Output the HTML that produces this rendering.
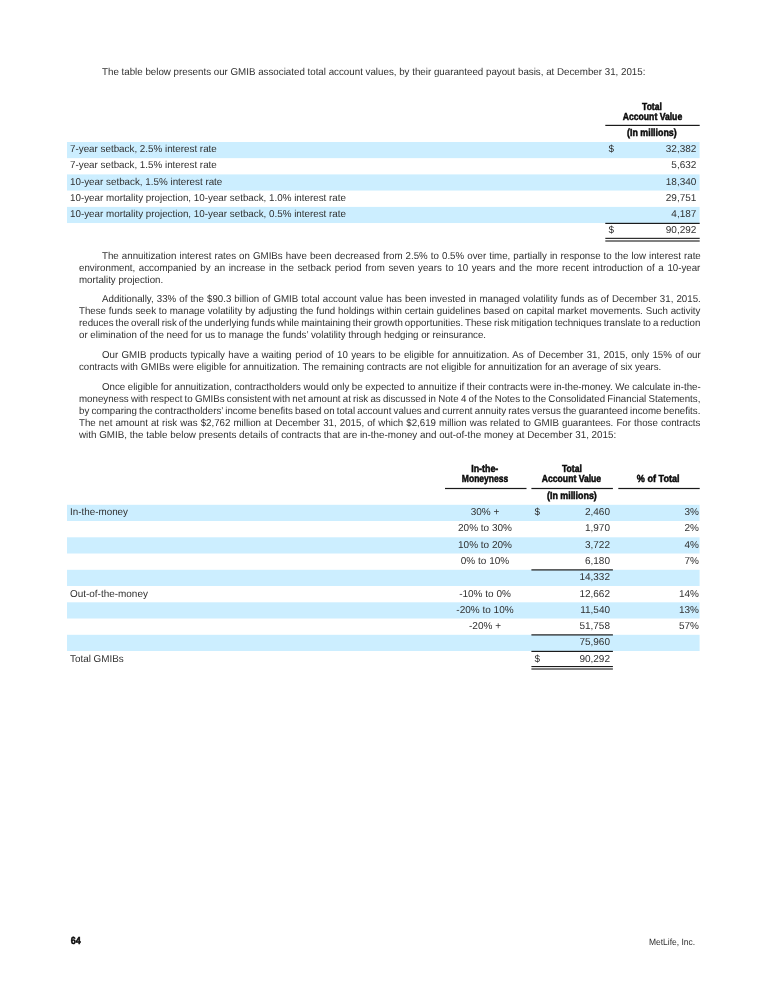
<!DOCTYPE html>
<html lang="en"><head><meta charset="utf-8"><title>MetLife, Inc. - page 64</title>
<style>
html,body{margin:0;padding:0;background:#fff;}
body{width:768px;height:993px;position:relative;overflow:hidden;font-family:"Liberation Sans",sans-serif;color:#303030;text-rendering:geometricPrecision;}
.t{position:absolute;white-space:nowrap;font-size:10px;line-height:12px;height:12px;}
.b{font-weight:bold;color:#0a0a0a;-webkit-text-stroke:0.5px #0a0a0a;}
.g{position:absolute;left:0;top:0;}
.w{position:absolute;left:0;top:0;width:768px;height:993px;filter:grayscale(1);}
</style></head><body>
<svg class="g" width="768" height="993" viewBox="0 0 768 993">
<rect x="67.00" y="142.00" width="632.60" height="16.15" fill="#cceeff"/>
<rect x="67.00" y="174.40" width="632.60" height="16.15" fill="#cceeff"/>
<rect x="67.00" y="206.90" width="632.60" height="16.15" fill="#cceeff"/>
<rect x="605.30" y="124.80" width="94.40" height="1.20" fill="#1a1a1a"/>
<rect x="605.30" y="222.80" width="94.40" height="1.20" fill="#1a1a1a"/>
<rect x="605.30" y="237.80" width="94.40" height="1.10" fill="#1a1a1a"/>
<rect x="605.30" y="240.45" width="94.40" height="1.10" fill="#1a1a1a"/>
<rect x="67.00" y="504.80" width="632.60" height="16.20" fill="#cceeff"/>
<rect x="67.00" y="537.30" width="632.60" height="16.20" fill="#cceeff"/>
<rect x="67.00" y="569.80" width="632.60" height="16.20" fill="#cceeff"/>
<rect x="67.00" y="602.30" width="632.60" height="16.20" fill="#cceeff"/>
<rect x="67.00" y="634.80" width="632.60" height="16.20" fill="#cceeff"/>
<rect x="445.00" y="487.90" width="81.50" height="1.20" fill="#1a1a1a"/>
<rect x="531.40" y="487.90" width="81.50" height="1.20" fill="#1a1a1a"/>
<rect x="618.30" y="487.90" width="81.40" height="1.20" fill="#1a1a1a"/>
<rect x="531.40" y="569.30" width="81.50" height="1.20" fill="#1a1a1a"/>
<rect x="531.40" y="634.30" width="81.50" height="1.20" fill="#1a1a1a"/>
<rect x="531.40" y="650.80" width="81.50" height="1.20" fill="#1a1a1a"/>
<rect x="531.40" y="666.00" width="81.50" height="1.10" fill="#1a1a1a"/>
<rect x="531.40" y="668.45" width="81.50" height="1.10" fill="#1a1a1a"/>
</svg>
<div class="w">
<section aria-label="GMIB total account values by guaranteed payout basis">
<div class="t" style="top:67px;left:101.60px;transform-origin:0 0;width:557.00px;transform:scaleX(0.9756);">The table below presents our GMIB associated total account values, by their guaranteed payout basis, at December 31, 2015:</div>
<div class="t" style="top:144px;left:70.20px;transform-origin:0 0;width:149.53px;transform:scaleX(0.9817);">7-year setback, 2.5% interest rate</div>
<div class="t" style="top:160px;left:70.20px;transform-origin:0 0;width:149.53px;transform:scaleX(0.9817);">7-year setback, 1.5% interest rate</div>
<div class="t" style="top:177px;left:70.20px;transform-origin:0 0;width:155.08px;transform:scaleX(0.9821);">10-year setback, 1.5% interest rate</div>
<div class="t" style="top:193px;left:70.20px;transform-origin:0 0;width:281.25px;transform:scaleX(0.9813);">10-year mortality projection, 10-year setback, 1.0% interest rate</div>
<div class="t" style="top:209px;left:70.20px;transform-origin:0 0;width:281.25px;transform:scaleX(0.9813);">10-year mortality projection, 10-year setback, 0.5% interest rate</div>
<div class="t" style="top:144px;left:665.81px;transform-origin:100% 0;width:30.59px;transform:scaleX(1.0000);">32,382</div>
<div class="t" style="top:160px;left:671.37px;transform-origin:100% 0;width:25.03px;transform:scaleX(1.0000);">5,632</div>
<div class="t" style="top:177px;left:665.81px;transform-origin:100% 0;width:30.59px;transform:scaleX(1.0000);">18,340</div>
<div class="t" style="top:193px;left:665.81px;transform-origin:100% 0;width:30.59px;transform:scaleX(1.0000);">29,751</div>
<div class="t" style="top:209px;left:671.37px;transform-origin:100% 0;width:25.03px;transform:scaleX(1.0000);">4,187</div>
<div class="t" style="top:225px;left:665.81px;transform-origin:100% 0;width:30.59px;transform:scaleX(1.0000);">90,292</div>
<div class="t" style="top:144px;left:608.40px;transform-origin:0 0;width:5.56px;transform:scaleX(1.0000);">$</div>
<div class="t" style="top:225px;left:608.40px;transform-origin:0 0;width:5.56px;transform:scaleX(1.0000);">$</div>
<div class="t b" style="top:102px;left:640.08px;transform-origin:50% 0;width:23.84px;transform:scaleX(0.8262);font-size:10.3px;">Total</div>
<div class="t b" style="top:112px;left:616.52px;transform-origin:50% 0;width:70.95px;transform:scaleX(0.8372);font-size:10.3px;">Account Value</div>
<div class="t b" style="top:128px;left:623.11px;transform-origin:50% 0;width:57.78px;transform:scaleX(0.8584);font-size:10.3px;">(In millions)</div>
</section>
<section aria-label="Discussion">
<div class="t" style="top:251px;left:101.60px;transform-origin:0 0;width:616.00px;transform:scaleX(0.9720);word-spacing:0.384px;">The annuitization interest rates on GMIBs have been decreased from 2.5% to 0.5% over time, partially in response to the low interest rate</div>
<div class="t" style="top:263px;left:79.00px;transform-origin:0 0;width:639.25px;transform:scaleX(0.9720);word-spacing:0.985px;">environment, accompanied by an increase in the setback period from seven years to 10 years and the more recent introduction of a 10-year</div>
<div class="t" style="top:275px;left:79.00px;transform-origin:0 0;width:86.70px;transform:scaleX(0.9711);">mortality projection.</div>
<div class="t" style="top:294px;left:101.60px;transform-origin:0 0;width:616.00px;transform:scaleX(0.9720);word-spacing:0.365px;">Additionally, 33% of the $90.3 billion of GMIB total account value has been invested in managed volatility funds as of December 31, 2015.</div>
<div class="t" style="top:306px;left:79.00px;transform-origin:0 0;width:639.25px;transform:scaleX(0.9720);word-spacing:0.139px;">These funds seek to manage volatility by adjusting the fund holdings within certain guidelines based on capital market movements. Such activity</div>
<div class="t" style="top:318px;left:79.00px;transform-origin:0 0;width:640.06px;transform:scaleX(0.9708);word-spacing:-0.700px;">reduces the overall risk of the underlying funds while maintaining their growth opportunities. These risk mitigation techniques translate to a reduction</div>
<div class="t" style="top:330px;left:79.00px;transform-origin:0 0;width:418.78px;transform:scaleX(0.9719);">or elimination of the need for us to manage the funds’ volatility through hedging or reinsurance.</div>
<div class="t" style="top:350px;left:101.60px;transform-origin:0 0;width:616.00px;transform:scaleX(0.9720);word-spacing:0.676px;">Our GMIB products typically have a waiting period of 10 years to be eligible for annuitization. As of December 31, 2015, only 15% of our</div>
<div class="t" style="top:362px;left:79.00px;transform-origin:0 0;width:603.45px;transform:scaleX(0.9649);">contracts with GMIBs were eligible for annuitization. The remaining contracts are not eligible for annuitization for an average of six years.</div>
<div class="t" style="top:382px;left:101.60px;transform-origin:0 0;width:616.00px;transform:scaleX(0.9720);word-spacing:-0.128px;">Once eligible for annuitization, contractholders would only be expected to annuitize if their contracts were in-the-money. We calculate in-the-</div>
<div class="t" style="top:394px;left:79.00px;transform-origin:0 0;width:639.25px;transform:scaleX(0.9720);word-spacing:-0.482px;">moneyness with respect to GMIBs consistent with net amount at risk as discussed in Note 4 of the Notes to the Consolidated Financial Statements,</div>
<div class="t" style="top:406px;left:79.00px;transform-origin:0 0;width:639.25px;transform:scaleX(0.9720);word-spacing:-0.508px;">by comparing the contractholders’ income benefits based on total account values and current annuity rates versus the guaranteed income benefits.</div>
<div class="t" style="top:418px;left:79.00px;transform-origin:0 0;width:639.25px;transform:scaleX(0.9720);word-spacing:0.388px;">The net amount at risk was $2,762 million at December 31, 2015, of which $2,619 million was related to GMIB guarantees. For those contracts</div>
<div class="t" style="top:430px;left:79.00px;transform-origin:0 0;width:546.41px;transform:scaleX(0.9832);">with GMIB, the table below presents details of contracts that are in-the-money and out-of-the money at December 31, 2015:</div>
</section>
<section aria-label="In-the-money and out-of-the-money contracts">
<div class="t" style="top:507px;left:70.40px;transform-origin:0 0;width:58.92px;transform:scaleX(0.9844);">In-the-money</div>
<div class="t" style="top:589px;left:70.20px;transform-origin:0 0;width:78.38px;transform:scaleX(0.9939);">Out-of-the-money</div>
<div class="t" style="top:654px;left:70.40px;transform-origin:0 0;width:54.47px;transform:scaleX(0.9877);">Total GMIBs</div>
<div class="t" style="top:507px;left:470.68px;transform-origin:50% 0;width:28.64px;transform:scaleX(1.0000);">30% +</div>
<div class="t" style="top:523px;left:458.03px;transform-origin:50% 0;width:53.94px;transform:scaleX(1.0000);">20% to 30%</div>
<div class="t" style="top:540px;left:458.03px;transform-origin:50% 0;width:53.94px;transform:scaleX(1.0000);">10% to 20%</div>
<div class="t" style="top:556px;left:460.81px;transform-origin:50% 0;width:48.38px;transform:scaleX(1.0000);">0% to 10%</div>
<div class="t" style="top:589px;left:459.15px;transform-origin:50% 0;width:51.70px;transform:scaleX(1.0000);">-10% to 0%</div>
<div class="t" style="top:605px;left:456.37px;transform-origin:50% 0;width:57.27px;transform:scaleX(1.0000);">-20% to 10%</div>
<div class="t" style="top:621px;left:469.02px;transform-origin:50% 0;width:31.97px;transform:scaleX(1.0000);">-20% +</div>
<div class="t" style="top:507px;left:584.97px;transform-origin:100% 0;width:25.03px;transform:scaleX(1.0000);">2,460</div>
<div class="t" style="top:523px;left:584.97px;transform-origin:100% 0;width:25.03px;transform:scaleX(1.0000);">1,970</div>
<div class="t" style="top:540px;left:584.97px;transform-origin:100% 0;width:25.03px;transform:scaleX(1.0000);">3,722</div>
<div class="t" style="top:556px;left:584.97px;transform-origin:100% 0;width:25.03px;transform:scaleX(1.0000);">6,180</div>
<div class="t" style="top:572px;left:579.41px;transform-origin:100% 0;width:30.59px;transform:scaleX(1.0000);">14,332</div>
<div class="t" style="top:589px;left:579.41px;transform-origin:100% 0;width:30.59px;transform:scaleX(1.0000);">12,662</div>
<div class="t" style="top:605px;left:580.16px;transform-origin:100% 0;width:29.84px;transform:scaleX(1.0000);">11,540</div>
<div class="t" style="top:621px;left:579.41px;transform-origin:100% 0;width:30.59px;transform:scaleX(1.0000);">51,758</div>
<div class="t" style="top:637px;left:579.41px;transform-origin:100% 0;width:30.59px;transform:scaleX(1.0000);">75,960</div>
<div class="t" style="top:654px;left:579.41px;transform-origin:100% 0;width:30.59px;transform:scaleX(1.0000);">90,292</div>
<div class="t" style="top:507px;left:534.60px;transform-origin:0 0;width:5.56px;transform:scaleX(1.0000);">$</div>
<div class="t" style="top:654px;left:534.60px;transform-origin:0 0;width:5.56px;transform:scaleX(1.0000);">$</div>
<div class="t" style="top:507px;left:684.55px;transform-origin:100% 0;width:14.45px;transform:scaleX(1.0000);">3%</div>
<div class="t" style="top:523px;left:684.55px;transform-origin:100% 0;width:14.45px;transform:scaleX(1.0000);">2%</div>
<div class="t" style="top:540px;left:684.55px;transform-origin:100% 0;width:14.45px;transform:scaleX(1.0000);">4%</div>
<div class="t" style="top:556px;left:684.55px;transform-origin:100% 0;width:14.45px;transform:scaleX(1.0000);">7%</div>
<div class="t" style="top:589px;left:678.98px;transform-origin:100% 0;width:20.02px;transform:scaleX(1.0000);">14%</div>
<div class="t" style="top:605px;left:678.98px;transform-origin:100% 0;width:20.02px;transform:scaleX(1.0000);">13%</div>
<div class="t" style="top:621px;left:678.98px;transform-origin:100% 0;width:20.02px;transform:scaleX(1.0000);">57%</div>
<div class="t b" style="top:464px;left:469.47px;transform-origin:50% 0;width:31.47px;transform:scaleX(0.8612);font-size:10.3px;">In-the-</div>
<div class="t b" style="top:474px;left:456.85px;transform-origin:50% 0;width:56.09px;transform:scaleX(0.8272);font-size:10.3px;">Moneyness</div>
<div class="t b" style="top:464px;left:559.78px;transform-origin:50% 0;width:23.84px;transform:scaleX(0.8304);font-size:10.3px;">Total</div>
<div class="t b" style="top:474px;left:536.12px;transform-origin:50% 0;width:70.95px;transform:scaleX(0.8358);font-size:10.3px;">Account Value</div>
<div class="t b" style="top:474px;left:634.18px;transform-origin:50% 0;width:48.44px;transform:scaleX(0.8815);font-size:10.3px;">% of Total</div>
<div class="t b" style="top:491px;left:542.71px;transform-origin:50% 0;width:57.78px;transform:scaleX(0.8619);font-size:10.3px;">(In millions)</div>
</section>
<footer>
<div class="t b" style="top:936px;left:69.87px;transform-origin:50% 0;width:11.47px;transform:scaleX(0.8719);font-size:10.3px;">64</div>
<div class="t" style="top:936px;left:648.90px;transform-origin:0 0;width:49.03px;transform:scaleX(0.9402);font-size:9.0px;">MetLife, Inc.</div>
</footer>
</div>
</body></html>
